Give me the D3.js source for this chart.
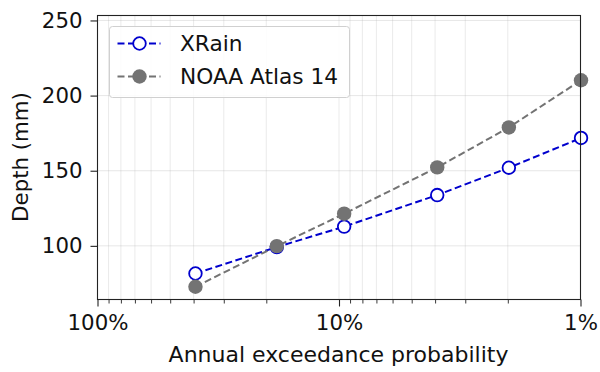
<!DOCTYPE html>
<html>
<head>
<meta charset="utf-8">
<script src="https://cdn.jsdelivr.net/npm/d3@7"></script>
<style>
  html, body { margin: 0; padding: 0; background: #fff; }
  svg { display: block; font-family: "DejaVu Sans", sans-serif; }
</style>
</head>
<body>
<svg id="chart" width="600" height="372"></svg>
<script>
// Data (annual exceedance probability for 2, 5, 10, 25, 50, 100-yr events)
const aep = [0.393, 0.181, 0.0952, 0.0392, 0.0198, 0.00995];
const xrain = [81.6, 99.2, 112.8, 133.8, 152.0, 171.8];
const noaa = [72.8, 99.8, 121.4, 152.2, 178.8, 210.2];
const seriesNames = ["XRain", "NOAA Atlas 14"];
const yTicks = [100, 150, 200, 250];
const xMajorTicks = [1, 0.1, 0.01];
const xMajorLabels = ["100%", "10%", "1%"];

(function () {
const svg = d3.select("#chart");
const pL = 97.5, pR = 580.5, pT = 15.5, pB = 299.5;
const FS = 21.3;

const x = d3.scaleLog().domain([1, 0.01]).range([pL, pR]);
const y = d3.scaleLinear().domain([64.3, 253.3]).range([pB, pT]);

// minor ticks
const minor = [];
for (const dec of [0.1, 0.01]) {
  for (let k = 2; k <= 9; k++) minor.push(k * dec);
}

const g = svg.append("g");

// grid
g.selectAll(".vgrid").data(minor.concat(xMajorTicks)).enter().append("line")
  .attr("x1", d => x(d)).attr("x2", d => x(d))
  .attr("y1", pT).attr("y2", pB)
  .attr("stroke", "#b0b0b0").attr("stroke-opacity", 0.25).attr("stroke-width", 1);
g.selectAll(".hgrid").data(yTicks).enter().append("line")
  .attr("x1", pL).attr("x2", pR)
  .attr("y1", d => y(d)).attr("y2", d => y(d))
  .attr("stroke", "#b0b0b0").attr("stroke-opacity", 0.3).attr("stroke-width", 1);

// lines & markers
const pts = (vals) => aep.map((p, i) => [x(p), y(vals[i])]);
const line = d3.line();

const colors = ["#0000cd", "#737373"];
const data = [xrain, noaa];

data.forEach((vals, si) => {
  g.append("path").attr("d", line(pts(vals)))
    .attr("fill", "none").attr("stroke", colors[si]).attr("stroke-width", 2)
    .attr("stroke-dasharray", "7,3.5");
});
[0, 1].forEach(si => {
  const vals = data[si];
  g.selectAll(".m" + si).data(pts(vals)).enter().append("circle")
    .attr("cx", d => d[0]).attr("cy", d => d[1])
    .attr("r", si === 0 ? 6.3 : 7.2)
    .attr("fill", si === 0 ? "#fff" : colors[1])
    .attr("stroke", colors[si])
    .attr("stroke-width", si === 0 ? 1.8 : 0);
});

// spines
g.append("rect").attr("x", pL).attr("y", pT).attr("width", pR - pL).attr("height", pB - pT)
  .attr("fill", "none").attr("stroke", "#222").attr("stroke-width", 1.1);

// y axis ticks
const yAxis = d3.axisLeft(y).tickValues(yTicks).tickSize(7).tickPadding(8);
const ya = svg.append("g").attr("transform", `translate(${pL},0)`).call(yAxis);
ya.select(".domain").remove();
ya.selectAll("line").attr("stroke", "#222").attr("stroke-width", 1.1);
ya.selectAll("text").attr("font-size", FS).attr("fill", "#111").attr("font-family", "DejaVu Sans");

// x axis
const xAxis = d3.axisBottom(x).tickValues(xMajorTicks).tickSize(7).tickPadding(8)
  .tickFormat((d, i) => xMajorLabels[i]);
const xa = svg.append("g").attr("transform", `translate(0,${pB})`).call(xAxis);
xa.select(".domain").remove();
xa.selectAll("line").attr("stroke", "#222").attr("stroke-width", 1.1);
xa.selectAll("text").attr("font-size", FS).attr("fill", "#111").attr("font-family", "DejaVu Sans");
const xm = d3.axisBottom(x).tickValues(minor).tickSize(4).tickFormat("");
const xma = svg.append("g").attr("transform", `translate(0,${pB})`).call(xm);
xma.select(".domain").remove();
xma.selectAll("line").attr("stroke", "#222").attr("stroke-width", 0.9);

// axis labels
svg.append("text").attr("x", 338.5).attr("y", 361.5)
  .attr("text-anchor", "middle").attr("font-size", 22).attr("fill", "#111")
  .text("Annual exceedance probability");
svg.append("text").attr("transform", `translate(27.5,157) rotate(-90)`)
  .attr("text-anchor", "middle").attr("font-size", FS).attr("fill", "#111")
  .text("Depth (mm)");

// legend
const lg = svg.append("g").attr("transform", "translate(109.5,26.5)");
lg.append("rect").attr("width", 240).attr("height", 71).attr("rx", 3)
  .attr("fill", "#fff").attr("fill-opacity", 0.85).attr("stroke", "#d0d0d0").attr("stroke-width", 1);
seriesNames.forEach((name, i) => {
  const cy = 17 + i * 33;
  lg.append("line").attr("x1", 8).attr("x2", 51).attr("y1", cy).attr("y2", cy)
    .attr("stroke", colors[i]).attr("stroke-width", 2).attr("stroke-dasharray", "7,3.5");
  lg.append("circle").attr("cx", 30).attr("cy", cy).attr("r", i === 0 ? 6.3 : 7.2)
    .attr("fill", i === 0 ? "#fff" : colors[1])
    .attr("stroke", colors[i]).attr("stroke-width", i === 0 ? 1.8 : 0);
  lg.append("text").attr("x", 70.5).attr("y", cy + 7.5).attr("font-size", 21.7).attr("fill", "#111")
    .text(name);
});
})();
</script>
</body>
</html>
